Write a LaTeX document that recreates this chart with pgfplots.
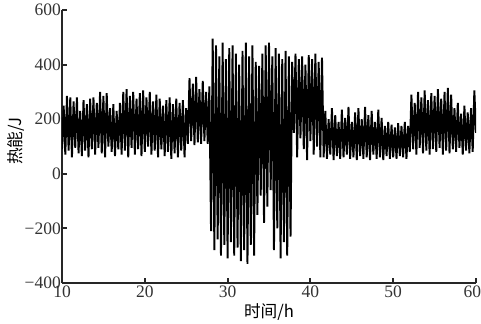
\documentclass[border=0pt]{standalone}
\usepackage{pgfplots}
\pgfplotsset{compat=1.18}
\usepackage{fontspec}
\setmainfont{Liberation Serif}
\newfontfamily\cjk{Noto Sans CJK SC}
\begin{document}
\begin{tikzpicture}
\path[use as bounding box] (-37.2pt,-24.6pt) rectangle (251.4pt,169.8pt);
\begin{axis}[
  at={(0,0)}, anchor=south west,
  scale only axis,
  width=248.4pt, height=163.8pt,
  xmin=10, xmax=60, ymin=-400, ymax=600,
  axis x line*=bottom, axis y line*=left,
  axis line style={-, line width=1.1pt, black!85},
  tick align=inside,
  major tick length=3pt,
  tick style={line width=1.1pt, black!85},
  xtick={10,20,30,40,50,60},
  xticklabels={10,20,30,40,50,\hbox to 6pt{\hss 60}},
  ytick={-400,-200,0,200,400,600},
  yticklabels={−400,−200,0,200,400,600},
  /pgf/number format/assume math mode=true,
  ticklabel style={font=\fontsize{10.5}{12}\selectfont, text=black!80},
  yticklabel style={inner sep=0.5pt},
  xticklabel style={inner sep=1.5pt},
  xlabel={\cjk\fontsize{10}{12}\selectfont 时间/h},
  ylabel={\cjk\fontsize{10}{12}\selectfont 热能/J},
  xlabel style={at={(axis description cs:0.5,-0.075)}, anchor=north, inner sep=0pt},
  ylabel style={at={(axis description cs:-0.089,0.52)}, anchor=south, inner sep=0pt},
]
\addplot[black, line width=1.15pt, no markers] table[x expr=10+0.2*\coordindex, y index=0, header=false] {
90
250
70
285
85
280
60
265
95
280
75
230
65
270
85
255
60
275
90
280
70
260
95
300
75
285
60
295
100
240
80
255
65
230
90
260
70
300
85
310
60
285
95
300
70
275
90
295
65
305
80
280
100
300
70
265
85
290
60
275
90
250
65
270
80
280
55
255
75
275
60
260
85
270
60
240
110
350
120
330
105
355
115
310
110
340
120
300
110
320
-210
495
-280
470
-240
430
-300
480
-260
420
-310
460
-250
470
-300
440
-270
400
-320
450
-280
480
-330
430
-260
470
-300
410
-150
395
-80
440
-180
470
-120
480
-60
430
-280
460
-200
440
-310
420
-250
450
-300
430
-230
410
150
440
60
420
130
430
90
400
50
435
120
420
70
440
100
410
60
425
60
230
55
200
70
240
50
215
65
190
55
235
60
205
70
245
55
190
60
225
50
240
65
200
55
245
60
215
50
230
70
190
55
235
60
205
50
175
65
190
55
180
60
170
55
185
65
175
60
190
55
175
80
290
90
260
70
300
95
280
75
305
85
270
70
295
90
285
80
310
95
275
70
300
85
315
75
290
90
240
80
260
95
220
70
250
85
225
75
240
80
305
150
};
\end{axis}
\end{tikzpicture}
\end{document}
